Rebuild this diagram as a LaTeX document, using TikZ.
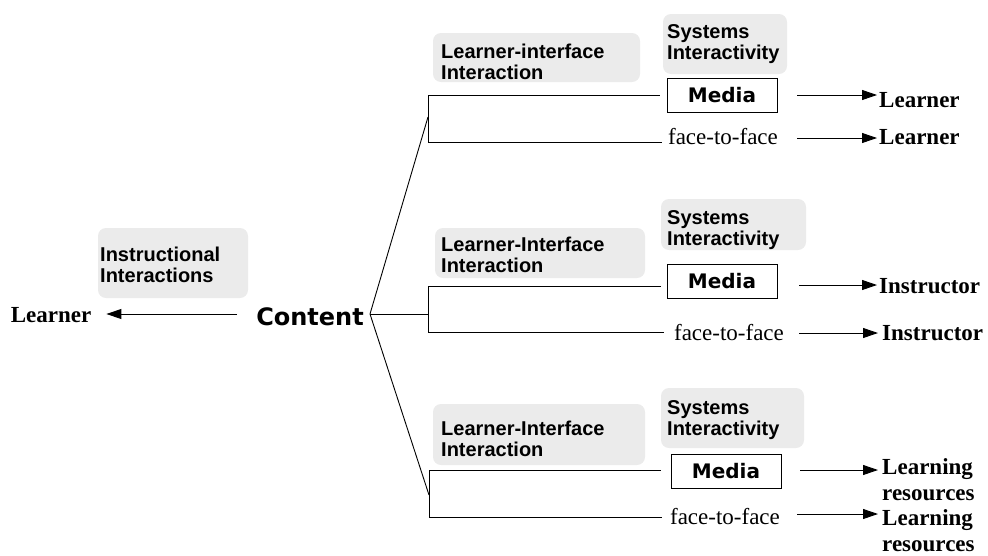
\documentclass[tikz,border=0pt]{standalone}
\usepackage{fontspec}
\setmainfont{Liberation Serif}
\newfontfamily\lsans{Liberation Sans}
\newfontfamily\dsans{DejaVu Sans}
\usetikzlibrary{arrows.meta}
\begin{document}
\begin{tikzpicture}[x=1pt,y=-1pt,
  every node/.style={inner sep=0pt},
  blob/.style={fill=black!8, rounded corners=8pt},
  lbl/.style={font=\lsans\bfseries\fontsize{20}{21}\selectfont, align=left, anchor=west},
  mediabox/.style={draw, line width=1pt, minimum width=110pt, minimum height=34pt, font=\dsans\bfseries\fontsize{20}{20}\selectfont},
  ftf/.style={font=\fontsize{23}{24}\selectfont, anchor=base},
  tgt/.style={font=\bfseries\fontsize{23}{26}\selectfont, align=left},
  ln/.style={line width=0.9pt},
  arr/.style={line width=0.9pt, -{Triangle[length=15pt,width=10pt]}}
]
\useasboundingbox (0,0) rectangle (988,555);

% stippled backgrounds
\fill[blob] (433,33) rectangle (640,82);
\fill[blob] (663,14) rectangle (787,74);
\fill[blob] (435,228) rectangle (645,278);
\fill[blob] (661,199) rectangle (806,250);
\fill[blob] (98,228) rectangle (248,298);
\fill[blob] (433,404) rectangle (645,465);
\fill[blob] (661,388) rectangle (804,448);

% left part
\node[font=\bfseries\fontsize{23}{24}\selectfont] (lleft) at (51,315) {Learner};
\node[font=\dsans\bfseries\fontsize{24}{24}\selectfont] (con) at (310,317) {Content};
\node[lbl] (instr) at (100,265) {Instructional\\Interactions};
\draw[arr, shorten <=19pt, shorten >=15pt] (con.west |- 0,314) -- (lleft.east |- 0,314);

\coordinate (hub) at (370,314);
% brackets
\coordinate (b1t) at (428,95);  \coordinate (b1b) at (428,142); \coordinate (b1m) at (428,117);
\coordinate (b2t) at (428,286); \coordinate (b2b) at (428,332); \coordinate (b2m) at (428,314);
\coordinate (b3t) at (429,470); \coordinate (b3b) at (429,517); \coordinate (b3m) at (429,495);
\draw[ln] (hub) -- (b1m);
\draw[ln] (hub) -- (b2m);
\draw[ln] (hub) -- (b3m);
\draw[ln] (b1t) -- (b1b);
\draw[ln] (b2t) -- (b2b);
\draw[ln] (b3t) -- (b3b);

% labels
\node[lbl] (li1) at (441,62) {Learner-interface\\Interaction};
\node[lbl] (si1) at (667,44) {Systems\\Interactivity};
\node[lbl] (li2) at (441,255) {Learner-Interface\\Interaction};
\node[lbl] (si2) at (667,230) {Systems\\Interactivity};
\node[lbl] (li3) at (441,439) {Learner-Interface\\Interaction};
\node[lbl] (si3) at (667,420) {Systems\\Interactivity};

% media boxes
\node[mediabox] (m1) at (722,95) {Media};
\node[mediabox] (m2) at (722,281) {Media};
\node[mediabox] (m3) at (726,471) {Media};
\draw[ln] (b1t) -- ([xshift=-7pt]m1.west |- b1t);
\draw[ln] (b2t) -- ([xshift=-6pt]m2.west |- b2t);
\draw[ln] (b3t) -- ([xshift=-10pt]m3.west |- b3t);

% face-to-face
\node[ftf] (f1) at (723,144) {face-to-face};
\node[ftf] (f2) at (729,340) {face-to-face};
\node[ftf] (f3) at (725,524) {face-to-face};
\draw[ln] (b1b) -- ([xshift=-6pt]f1.west |- b1b);
\draw[ln] (b2b) -- ([xshift=-10pt]f2.west |- b2b);
\draw[ln] (b3b) -- ([xshift=-8pt]f3.west |- b3b);

% targets
\node[tgt, anchor=west] (t1) at (879,100) {Learner};
\node[tgt, anchor=west] (t2) at (879,137) {Learner};
\node[tgt, anchor=west] (t3) at (879,286) {Instructor};
\node[tgt, anchor=west] (t4) at (882,333) {Instructor};
\node[tgt, anchor=north west] (t5) at (882,458) {Learning\\resources};
\node[tgt, anchor=north west] (t6) at (882,509) {Learning\\resources};

\coordinate (a1) at (797,95);
\coordinate (a2) at (797,138);
\coordinate (a3) at (799,285);
\coordinate (a4) at (799,333);
\coordinate (a5) at (800,470);
\coordinate (a6) at (797,514);
\draw[arr, shorten >=2pt] (a1) -- (t1.west |- a1);
\draw[arr, shorten >=2pt] (a2) -- (t2.west |- a2);
\draw[arr, shorten >=2pt] (a3) -- (t3.west |- a3);
\draw[arr, shorten >=4pt] (a4) -- (t4.west |- a4);
\draw[arr, shorten >=4pt] (a5) -- (t5.west |- a5);
\draw[arr, shorten >=4pt] (a6) -- (t6.west |- a6);
\end{tikzpicture}
\end{document}
